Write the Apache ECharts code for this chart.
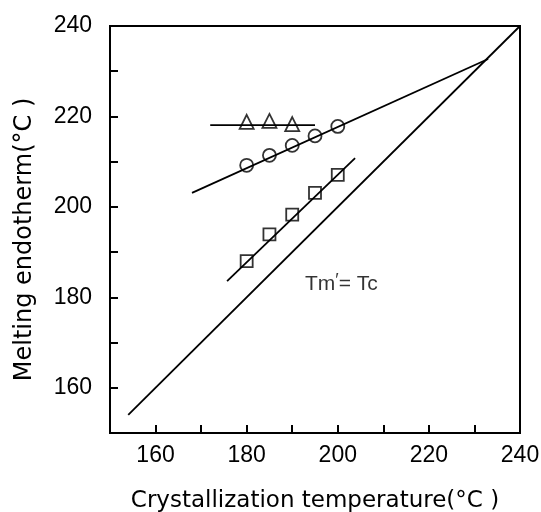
<!DOCTYPE html>
<html>
<head>
<meta charset="utf-8">
<script src="https://cdn.jsdelivr.net/npm/echarts@6/dist/echarts.min.js"></script>
<style>
    html, body { margin: 0; padding: 0; background: #fff; }
    #main { width: 541px; height: 512px; }
</style>
</head>
<body>
<div id="main"></div>
<script>
// data
var tcTicks = [160, 180, 200, 220, 240];
var tmTicks = [160, 180, 200, 220, 240];

var triX = [180, 185, 190];
var triY = [218.8, 219.0, 218.3];
var circX = [180, 185, 190, 195, 200];
var circY = [209.2, 211.4, 213.6, 215.7, 217.8];
var sqX = [180, 185, 190, 195, 200];
var sqY = [188.0, 193.9, 198.3, 203.1, 207.1];

// fitted lines, end points
var triLineX = [172, 195];
var triLineY = [218.1, 218.1];
var circLineX = [168, 233];
var circLineY = [203.1, 232.7];
var sqLineX = [175.7, 203.8];
var sqLineY = [183.6, 210.8];
var diagX = [154, 240];
var diagY = [154, 240];

var noteLabel = ['Tm', '\u2032', '= Tc'];
var notePos = [192.8, 182.8];

function pairs(xs, ys) {
    var out = [];
    for (var i = 0; i < xs.length; i++) {
        out.push([xs[i], ys[i]]);
    }
    return out;
}

function lineSeries(xs, ys) {
    return {
        type: 'line',
        data: pairs(xs, ys),
        showSymbol: false,
        silent: true,
        lineStyle: { color: '#000', width: 1.8 },
        z: 2
    };
}

function markerSeries(xs, ys, symbol, size) {
    return {
        type: 'scatter',
        data: pairs(xs, ys),
        symbol: symbol,
        symbolSize: size,
        itemStyle: { color: 'rgba(0,0,0,0)', borderColor: '#000', borderWidth: 1.8 },
        z: 3
    };
}

var font = 'Liberation Sans, Arial, sans-serif';
var nameFont = 'DejaVu Sans, sans-serif';
var myChart = echarts.init(document.getElementById('main'));

var option = {
    backgroundColor: '#fff',
    animation: false,
    grid: {
        left: 110, top: 26, right: 21, bottom: 79,
        containLabel: false,
        outerBoundsMode: 'none',
        show: true,
        borderColor: '#000',
        borderWidth: 2
    },
    xAxis: {
        type: 'value',
        min: 150, max: 240, interval: 10,
        name: 'Crystallization temperature(\u00b0C )',
        nameLocation: 'middle',
        nameGap: 57,
        nameTextStyle: { fontFamily: nameFont, fontSize: 23, color: '#000' },
        axisLine: { lineStyle: { color: '#000', width: 2 } },
        axisTick: { inside: true, length: 8, lineStyle: { color: '#000', width: 2 } },
        axisLabel: {
            margin: 11, fontFamily: font, fontSize: 23, color: '#000',
            formatter: function (v) { return tcTicks.indexOf(v) >= 0 ? String(v) : ''; }
        },
        splitLine: { show: false }
    },
    yAxis: {
        type: 'value',
        min: 150, max: 240, interval: 10,
        name: 'Melting endotherm(\u00b0C )',
        nameLocation: 'middle',
        nameGap: 73,
        nameTextStyle: { fontFamily: nameFont, fontSize: 24, color: '#000', padding: [0, 20, 0, 0] },
        axisLine: { lineStyle: { color: '#000', width: 2 } },
        axisTick: { inside: true, length: 8, lineStyle: { color: '#000', width: 2 } },
        axisLabel: {
            margin: 18, fontFamily: font, fontSize: 23, color: '#000',
            formatter: function (v) { return tmTicks.indexOf(v) >= 0 ? String(v) : ''; }
        },
        splitLine: { show: false }
    },
    series: [
        lineSeries(diagX, diagY),
        lineSeries(triLineX, triLineY),
        lineSeries(circLineX, circLineY),
        lineSeries(sqLineX, sqLineY),
        markerSeries(triX, triY, 'triangle', 14),
        markerSeries(circX, circY, 'circle', 13),
        markerSeries(sqX, sqY, 'rect', 12),
        {
            type: 'scatter',
            data: [notePos],
            symbolSize: 0,
            silent: true,
            label: {
                show: true,
                position: 'inside',
                align: 'left',
                verticalAlign: 'middle',
                color: '#000',
                formatter: '{a|' + noteLabel[0] + '}{b|' + noteLabel[1] + '}{a|' + noteLabel[2] + '}',
                rich: {
                    a: { fontFamily: font, fontSize: 21, color: '#000' },
                    b: { fontFamily: font, fontSize: 18, color: '#000', padding: [0, 0, 8, 0] }
                }
            }
        }
    ]
};
myChart.setOption(option);
</script>
</body>
</html>
